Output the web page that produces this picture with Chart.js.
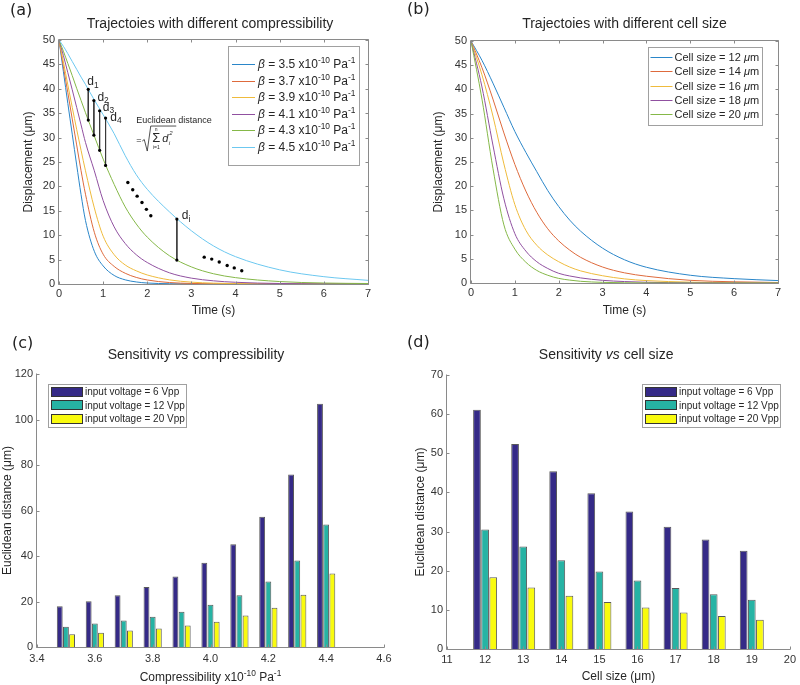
<!DOCTYPE html>
<html>
<head>
<meta charset="utf-8">
<script src="https://cdn.jsdelivr.net/npm/chart.js@4.4.0/dist/chart.umd.min.js"></script>
<style>
  body { margin: 0; background: #fff; }
  #page { position: relative; width: 800px; height: 685px; overflow: hidden; }
  canvas { position: absolute; }
  .tag { position: absolute; font: 16px 'DejaVu Sans', sans-serif; color: #222; line-height: 20px; }
</style>
</head>
<body>
<div id="page">
  <canvas id="chartA" width="400" height="325" style="left:0;top:0"></canvas>
  <canvas id="chartB" width="400" height="325" style="left:400px;top:0"></canvas>
  <canvas id="chartC" width="400" height="355" style="left:0;top:330px"></canvas>
  <canvas id="chartD" width="400" height="355" style="left:400px;top:330px"></canvas>
  <div class="tag" style="left:10px;top:0">(a)</div>
  <div class="tag" style="left:407px;top:-1px">(b)</div>
  <div class="tag" style="left:12px;top:333px">(c)</div>
  <div class="tag" style="left:407px;top:332px">(d)</div>
</div>
<script>
// ---- (a) trajectories vs compressibility ----
const timeA = [0, 0.1, 0.2, 0.3, 0.4, 0.5, 0.6, 0.8, 1.0, 1.25, 1.5, 1.75, 2, 2.5, 3, 3.5, 4, 5, 6, 7];
const betaValues = [3.5, 3.7, 3.9, 4.1, 4.3, 4.5];
const beta35 = [50, 43.5, 37.0, 30.7, 24.4, 18.3, 13.0, 6.7, 3.7, 1.75, 0.85, 0.42, 0.2, 0.06, 0.02, 0, 0, 0, 0, 0];
const beta37 = [50, 44.5, 39.2, 33.8, 28.5, 23.2, 18.4, 10.6, 6.1, 3.6, 2.2, 1.35, 0.82, 0.3, 0.11, 0.04, 0.02, 0, 0, 0];
const beta39 = [50, 45.5, 40.8, 36.2, 31.7, 27.4, 23.2, 15.6, 9.8, 6.0, 3.9, 2.7, 1.85, 0.85, 0.38, 0.17, 0.08, 0.02, 0, 0];
const beta41 = [50, 46.8, 43.3, 39.8, 36.2, 32.6, 29.0, 23.2, 17.1, 11.7, 8.3, 6.0, 4.4, 2.3, 1.2, 0.65, 0.35, 0.1, 0.03, 0.01];
const beta43 = [50, 47.7, 45.2, 42.7, 40.1, 37.6, 35.1, 30.3, 25.6, 20.4, 15.8, 12.3, 9.6, 5.8, 3.5, 2.1, 1.3, 0.5, 0.2, 0.1];
const beta45 = [50, 48.7, 47.2, 45.6, 44.0, 42.4, 40.9, 37.7, 34.7, 30.8, 26.3, 22.4, 19.4, 14.8, 10.9, 7.8, 5.6, 2.9, 1.5, 0.75];

// distance markers drawn between the 4.5 and 4.3 curves
const dSegX = [0.663, 0.79, 0.92, 1.055, 2.67];
const dSegTop = [39.9, 37.6, 35.5, 34.0, 13.3];
const dSegBottom = [33.6, 30.5, 27.4, 24.3, 4.9];
const dLabels = ['1', '2', '3', '4', 'i'];
const dLabelX = [0.64, 0.87, 0.99, 1.16, 2.78];
const dLabelY = [41.6, 38.4, 36.4, 34.3, 14.1];
const dotsX1 = [1.56, 1.67, 1.77, 1.88, 1.98, 2.08];
const dotsY1 = [20.8, 19.3, 18.0, 16.7, 15.3, 14.0];
const dotsX2 = [3.29, 3.46, 3.63, 3.81, 3.97, 4.14];
const dotsY2 = [5.5, 5.1, 4.5, 3.8, 3.3, 2.7];
const eqX = 1.75, eqY = 33.6;

// ---- (b) trajectories vs cell size ----
const timeB = [0, 0.25, 0.5, 0.75, 1, 1.25, 1.5, 1.75, 2, 2.25, 2.5, 3, 3.5, 4, 5, 6, 7];
const cellSizesB = [12, 14, 16, 18, 20];
const cell12 = [50, 46.0, 41.3, 36.3, 31.3, 27.0, 23.0, 19.1, 15.8, 13.0, 10.7, 7.2, 4.8, 3.25, 1.6, 0.9, 0.5];
const cell14 = [50, 44.5, 38.0, 31.0, 24.5, 19.0, 14.6, 11.2, 8.7, 6.8, 5.3, 3.3, 2.1, 1.4, 0.55, 0.25, 0.1];
const cell16 = [50, 43.0, 34.5, 24.6, 16.2, 10.9, 7.8, 5.8, 4.4, 3.3, 2.5, 1.5, 0.85, 0.5, 0.17, 0.06, 0.02];
const cell18 = [50, 40.5, 28.5, 17.4, 10.2, 6.6, 4.4, 3.0, 2.0, 1.45, 1.05, 0.55, 0.3, 0.15, 0.04, 0.01, 0];
const cell20 = [50, 38.0, 23.7, 12.0, 7.0, 4.3, 2.6, 1.6, 0.95, 0.6, 0.35, 0.13, 0.05, 0.02, 0, 0, 0];

// ---- (c) sensitivity vs compressibility ----
const voltages = [6, 12, 20];
const compressibility = [3.5, 3.6, 3.7, 3.8, 3.9, 4.0, 4.1, 4.2, 4.3, 4.4];
const sensC6 = [17.9, 20.1, 22.7, 26.4, 31.0, 37.0, 45.2, 57.2, 75.8, 106.9];
const sensC12 = [8.9, 10.3, 11.6, 13.3, 15.5, 18.6, 22.7, 28.8, 38.0, 53.8];
const sensC20 = [5.6, 6.3, 7.2, 8.1, 9.4, 11.1, 13.8, 17.3, 23.0, 32.3];

// ---- (d) sensitivity vs cell size ----
const cellSizesD = [12, 13, 14, 15, 16, 17, 18, 19];
const sensD6 = [61.1, 52.4, 45.4, 39.8, 35.1, 31.2, 28.0, 25.1];
const sensD12 = [30.5, 26.2, 22.7, 19.8, 17.5, 15.6, 14.0, 12.6];
const sensD20 = [18.3, 15.7, 13.6, 12.0, 10.6, 9.3, 8.4, 7.5];

const lineColors = ['#2a86c9', '#de6a3c', '#efbb3c', '#9050a0', '#85b848', '#6cc8f0'];
const barColors = ['#352A87', '#26B3A4', '#F9FB0E'];
const axisColor = '#8a8a8a';
const textColor = '#262626';
const SANS = "'Liberation Sans', Arial, sans-serif";

Chart.defaults.font.family = SANS;
Chart.defaults.font.size = 11;
Chart.defaults.color = '#333';

function segFont(seg, size) {
  const s = Math.round(((seg.sup || seg.sub) ? size * 0.7 : size) * 10) / 10;
  return (seg.it ? 'italic ' : '') + s + 'px ' + SANS;
}

function richWidth(ctx, segs, size) {
  let w = 0;
  segs.forEach(seg => {
    ctx.font = segFont(seg, size);
    w += ctx.measureText(seg.t).width;
  });
  return w;
}

// y is the visual middle of the line
function drawRich(ctx, segs, x, y, size, align) {
  let cx = x;
  if (align === 'center') cx -= richWidth(ctx, segs, size) / 2;
  const base = y + size * 0.35;
  ctx.textBaseline = 'alphabetic';
  ctx.textAlign = 'left';
  segs.forEach(seg => {
    ctx.font = segFont(seg, size);
    let by = base;
    if (seg.sup) by -= size * 0.42;
    if (seg.sub) by += size * 0.22;
    ctx.fillText(seg.t, cx, by);
    cx += ctx.measureText(seg.t).width;
  });
}

function drawLegend(ctx, a, lg) {
  const textW = Math.max(...lg.items.map(it => richWidth(ctx, it.segs, lg.size)));
  const w = Math.round(lg.padL + lg.swatchW + lg.gap + textW + lg.padR);
  const h = Math.round(lg.items.length * lg.rowH + 2 * lg.padV);
  const x = Math.round(lg.side === 'right' ? a.right - lg.dx - w : a.left + lg.dx);
  const y = Math.round(a.top + lg.dy);
  ctx.fillStyle = '#fff';
  ctx.fillRect(x, y, w, h);
  ctx.strokeStyle = '#a0a0a0';
  ctx.lineWidth = 1;
  ctx.strokeRect(x + 0.5, y + 0.5, w, h);
  lg.items.forEach((it, i) => {
    const cy = y + lg.padV + lg.rowH * (i + 0.5);
    const sx = x + lg.padL;
    if (lg.kind === 'line') {
      ctx.strokeStyle = it.color;
      ctx.beginPath();
      ctx.moveTo(sx, Math.round(cy) + 0.5);
      ctx.lineTo(sx + lg.swatchW, Math.round(cy) + 0.5);
      ctx.stroke();
    } else {
      ctx.fillStyle = it.color;
      ctx.fillRect(sx, Math.round(cy - lg.swatchH / 2), lg.swatchW, lg.swatchH);
      ctx.strokeStyle = '#333';
      ctx.strokeRect(sx + 0.5, Math.round(cy - lg.swatchH / 2) + 0.5, lg.swatchW - 1, lg.swatchH - 1);
    }
    ctx.fillStyle = textColor;
    drawRich(ctx, it.segs, sx + lg.swatchW + lg.gap, cy, lg.size);
  });
}

// MATLAB-like axes: box, inward ticks, title and legend
const matlabLook = {
  id: 'matlabLook',
  afterDatasetsDraw(chart, args, opts) {
    const {ctx, chartArea: a} = chart;
    const xs = chart.scales.x, ys = chart.scales.y;
    const L = a.left - 0.5, R = a.right + 0.5, T = a.top - 0.5, B = a.bottom + 0.5;
    ctx.save();
    ctx.strokeStyle = axisColor;
    ctx.lineWidth = 1;
    ctx.beginPath();
    ctx.moveTo(L, T); ctx.lineTo(L, B); ctx.lineTo(R, B);
    if (opts.box) { ctx.lineTo(R, T); ctx.lineTo(L, T); }
    xs.ticks.forEach(t => {
      const px = Math.round(xs.getPixelForValue(t.value)) + 0.5;
      ctx.moveTo(px, B); ctx.lineTo(px, B - 3);
      if (opts.box) { ctx.moveTo(px, T); ctx.lineTo(px, T + 3); }
    });
    ys.ticks.forEach(t => {
      const py = Math.round(ys.getPixelForValue(t.value)) + 0.5;
      ctx.moveTo(L, py); ctx.lineTo(L + 3, py);
      if (opts.box) { ctx.moveTo(R, py); ctx.lineTo(R - 3, py); }
    });
    ctx.stroke();

    ctx.fillStyle = textColor;
    drawRich(ctx, opts.title, (a.left + a.right) / 2 + opts.titleDx, a.top + opts.titleDy, 14, 'center');
    if (opts.xTitle) {
      drawRich(ctx, opts.xTitle, (a.left + a.right) / 2, a.bottom + opts.xTitleDy, 12, 'center');
    }
    drawLegend(ctx, a, opts.legend);
    ctx.restore();
  }
};

// labels and formula for panel (a)
const annotA = {
  id: 'annotA',
  afterDatasetsDraw(chart) {
    const {ctx, scales: {x, y}} = chart;
    ctx.save();
    ctx.fillStyle = textColor;
    dLabels.forEach((lab, i) => {
      drawRich(ctx, [{t: 'd'}, {t: lab, sub: true}], x.getPixelForValue(dLabelX[i]), y.getPixelForValue(dLabelY[i]), 12);
    });
    const ex = x.getPixelForValue(eqX), ey = y.getPixelForValue(eqY);
    ctx.font = '9px ' + SANS;
    ctx.textBaseline = 'middle';
    ctx.textAlign = 'left';
    ctx.fillText('Euclidean distance', ex, ey);
    ctx.fillText('=', ex, ey + 20);
    ctx.strokeStyle = textColor;
    ctx.lineWidth = 0.8;
    ctx.beginPath();
    ctx.moveTo(ex + 6, ey + 21);
    ctx.lineTo(ex + 8, ey + 19.5);
    ctx.lineTo(ex + 11, ey + 31);
    ctx.lineTo(ex + 14.5, ey + 6);
    ctx.lineTo(ex + 40, ey + 6);
    ctx.stroke();
    ctx.textAlign = 'center';
    ctx.font = '13px ' + SANS;
    ctx.fillText('Σ', ex + 20, ey + 18);
    ctx.font = '5px ' + SANS;
    ctx.fillText('n', ex + 20, ey + 9.5);
    ctx.fillText('i=1', ex + 20, ey + 28);
    ctx.textAlign = 'left';
    ctx.font = 'italic 11px ' + SANS;
    ctx.fillText('d', ex + 26, ey + 19);
    ctx.font = 'italic 6px ' + SANS;
    ctx.fillText('i', ex + 32.5, ey + 23);
    ctx.fillText('2', ex + 33, ey + 13);
    ctx.restore();
  }
};

function points(xs, ys) {
  return xs.map((v, i) => ({x: v, y: ys[i]}));
}

function axisX(min, max, step, title, height, pad, titlePadBottom) {
  return {
    type: 'linear', min: min, max: max, offset: false,
    ticks: {stepSize: step, padding: pad, color: '#333', font: {size: 11}},
    grid: {display: false, drawTicks: false},
    border: {display: false},
    title: {display: !!title, text: title, color: textColor, font: {size: 12}, padding: {top: 0, bottom: titlePadBottom}},
    afterFit: s => { s.height = height; }
  };
}

function axisY(min, max, step, title, width, titlePadTop) {
  return {
    type: 'linear', min: min, max: max,
    ticks: {stepSize: step, padding: 4, color: '#333', font: {size: 11}},
    grid: {display: false, drawTicks: false},
    border: {display: false},
    title: {display: true, text: title, color: textColor, font: {size: 12}, padding: {top: titlePadTop, bottom: 0}},
    afterFit: s => { s.width = width; }
  };
}

const baseOptions = {
  responsive: false,
  animation: false,
  devicePixelRatio: 1,
  events: []
};

// ---------- chart (a) ----------
const curvesA = [beta35, beta37, beta39, beta41, beta43, beta45];
const datasetsA = curvesA.map((vals, k) => ({
  data: points(timeA, vals),
  borderColor: lineColors[k],
  borderWidth: 1,
  pointRadius: 0,
  cubicInterpolationMode: 'monotone',
  order: 10 - k
}));
dSegX.forEach((sx, i) => {
  datasetsA.push({
    data: [{x: sx, y: dSegTop[i]}, {x: sx, y: dSegBottom[i]}],
    borderColor: '#3a3a3a',
    borderWidth: 1,
    pointRadius: 1.6,
    pointBackgroundColor: '#000',
    pointBorderWidth: 0,
    order: 0
  });
});
[[dotsX1, dotsY1], [dotsX2, dotsY2]].forEach(([dx, dy]) => {
  datasetsA.push({
    data: points(dx, dy),
    showLine: false,
    pointRadius: 1.7,
    pointBackgroundColor: '#000',
    pointBorderWidth: 0,
    order: 0
  });
});

new Chart(document.getElementById('chartA'), {
  type: 'line',
  data: {datasets: datasetsA},
  options: Object.assign({}, baseOptions, {
    layout: {padding: {left: 0, right: 32, top: 40, bottom: 0}},
    scales: {
      x: axisX(0, 7, 1, 'Time (s)', 41, 3, 7),
      y: axisY(0, 50, 5, 'Displacement (μm)', 59, 21)
    },
    plugins: {
      legend: {display: false},
      tooltip: {enabled: false},
      matlabLook: {
        box: true,
        title: [{t: 'Trajectoies with different compressibility'}],
        titleDx: -3.5, titleDy: -16.7,
        legend: {
          kind: 'line', side: 'right', dx: 9, dy: 6, size: 12, rowH: 16.5, padV: 10,
          padL: 4, swatchW: 23, gap: 3, padR: 4,
          items: betaValues.map((b, k) => ({
            color: lineColors[k],
            segs: [{t: 'β', it: true}, {t: ' = ' + b.toFixed(1) + ' x10'}, {t: '-10', sup: true}, {t: ' Pa'}, {t: '-1', sup: true}]
          }))
        }
      }
    }
  }),
  plugins: [matlabLook, annotA]
});

// ---------- chart (b) ----------
const curvesB = [cell12, cell14, cell16, cell18, cell20];
new Chart(document.getElementById('chartB'), {
  type: 'line',
  data: {
    datasets: curvesB.map((vals, k) => ({
      data: points(timeB, vals),
      borderColor: lineColors[k],
      borderWidth: 1,
      pointRadius: 0,
      cubicInterpolationMode: 'monotone',
      order: 10 - k
    }))
  },
  options: Object.assign({}, baseOptions, {
    layout: {padding: {left: 0, right: 22, top: 41, bottom: 0}},
    scales: {
      x: axisX(0, 7, 1, 'Time (s)', 42, 3, 7),
      y: axisY(0, 50, 5, 'Displacement (μm)', 71, 31)
    },
    plugins: {
      legend: {display: false},
      tooltip: {enabled: false},
      matlabLook: {
        box: true,
        title: [{t: 'Trajectoies with different cell size'}],
        titleDx: 0, titleDy: -18.3,
        legend: {
          kind: 'line', side: 'right', dx: 16, dy: 6, size: 11, rowH: 14.3, padV: 3,
          padL: 2.5, swatchW: 22, gap: 2, padR: 3,
          items: cellSizesB.map((s, k) => ({
            color: lineColors[k],
            segs: [{t: 'Cell size = ' + s + ' '}, {t: 'μ', it: true}, {t: 'm'}]
          }))
        }
      }
    }
  }),
  plugins: [matlabLook]
});

// ---------- bar charts ----------
function barDatasets(xs, series) {
  return series.map((vals, k) => ({
    label: 'input voltage = ' + voltages[k] + ' Vpp',
    data: points(xs, vals),
    backgroundColor: barColors[k],
    borderColor: 'rgba(0,0,0,0.65)',
    borderWidth: 1,
    categoryPercentage: 0.64,
    barPercentage: 0.95
  }));
}

function barLegend(side, dx, dy) {
  return {
    kind: 'bar', side: side, dx: dx, dy: dy, size: 10, rowH: 13.4, padV: 1.2,
    padL: 3, swatchW: 32, swatchH: 10, gap: 2, padR: 1.5,
    items: voltages.map((v, k) => ({color: barColors[k], segs: [{t: 'input voltage = ' + v + ' Vpp'}]}))
  };
}

new Chart(document.getElementById('chartC'), {
  type: 'bar',
  data: {datasets: barDatasets(compressibility, [sensC6, sensC12, sensC20])},
  options: Object.assign({}, baseOptions, {
    layout: {padding: {left: 0, right: 16, top: 44, bottom: 0}},
    scales: {
      x: axisX(3.4, 4.6, 0.2, '', 38, 5, 1),
      y: axisY(0, 120, 20, 'Euclidean distance (μm)', 37, 0)
    },
    plugins: {
      legend: {display: false},
      tooltip: {enabled: false},
      matlabLook: {
        box: false,
        title: [{t: 'Sensitivity '}, {t: 'vs', it: true}, {t: ' compressibility'}],
        titleDx: -14.5, titleDy: -19.7,
        xTitle: [{t: 'Compressibility x10'}, {t: '-10', sup: true}, {t: ' Pa'}, {t: '-1', sup: true}],
        xTitleDy: 30,
        legend: barLegend('left', 11.3, 9.5)
      }
    }
  }),
  plugins: [matlabLook]
});

new Chart(document.getElementById('chartD'), {
  type: 'bar',
  data: {datasets: barDatasets(cellSizesD, [sensD6, sensD12, sensD20])},
  options: Object.assign({}, baseOptions, {
    layout: {padding: {left: 0, right: 7, top: 45, bottom: 0}},
    scales: {
      x: axisX(11, 20, 1, 'Cell size (μm)', 36, 4, 1),
      y: axisY(0, 70, 10, 'Euclidean distance (μm)', 47, 13.3)
    },
    plugins: {
      legend: {display: false},
      tooltip: {enabled: false},
      matlabLook: {
        box: false,
        title: [{t: 'Sensitivity '}, {t: 'vs', it: true}, {t: ' cell size'}],
        titleDx: -12.3, titleDy: -20.7,
        legend: barLegend('right', 9.7, 9.3)
      }
    }
  }),
  plugins: [matlabLook]
});
</script>
</body>
</html>
